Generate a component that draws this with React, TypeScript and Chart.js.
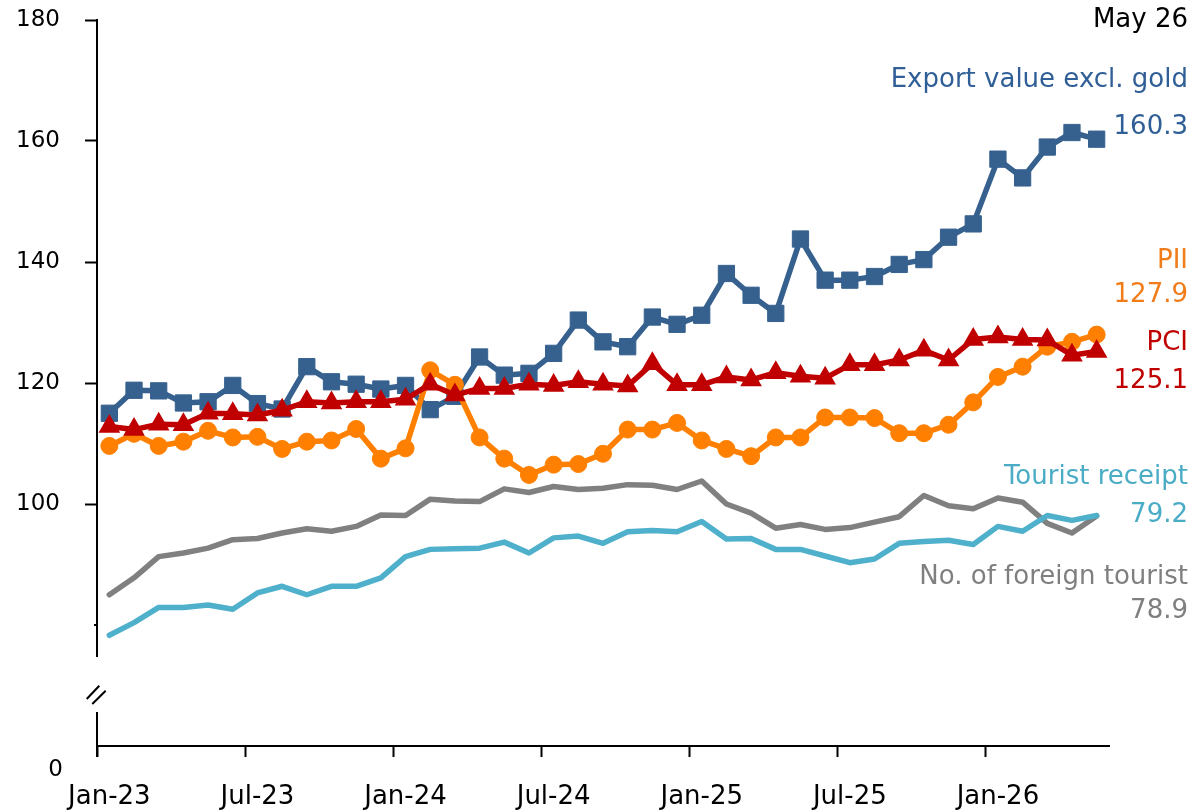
import React, { useEffect, useRef } from "react";
import { Chart, registerables } from "chart.js";

Chart.register(...registerables);

const months = [
  "Jan-23", "Feb-23", "Mar-23", "Apr-23", "May-23", "Jun-23", "Jul-23", "Aug-23", "Sep-23", "Oct-23", "Nov-23", "Dec-23",
  "Jan-24", "Feb-24", "Mar-24", "Apr-24", "May-24", "Jun-24", "Jul-24", "Aug-24", "Sep-24", "Oct-24", "Nov-24", "Dec-24",
  "Jan-25", "Feb-25", "Mar-25", "Apr-25", "May-25", "Jun-25", "Jul-25", "Aug-25", "Sep-25", "Oct-25", "Nov-25", "Dec-25",
  "Jan-26", "Feb-26", "Mar-26", "Apr-26", "May-26",
];

const xTickLabels = ["Jan-23", "Jul-23", "Jan-24", "Jul-24", "Jan-25", "Jul-25", "Jan-26"];
const yTickValues = [80, 100, 120, 140, 160, 180];
const yTickLabels = ["", "100", "120", "140", "160", "180"];
const yMin = 60;
const yMax = 180;
const yBottomLabel = "0";

const exportValues = [
  115.0, 118.8, 118.7, 116.7, 116.9, 119.6, 116.6, 115.7, 122.7, 120.2,
  119.8, 119.0, 119.6, 115.6, 117.8, 124.3, 121.3, 121.6, 124.9, 130.4,
  126.8, 126.0, 130.9, 129.7, 131.2, 138.1, 134.5, 131.5, 143.8, 137.0,
  137.0, 137.6, 139.6, 140.4, 144.1, 146.3, 157.0, 153.9, 159.0, 161.4, 160.3,
];
const pciValues = [
  112.8, 112.3, 113.2, 113.1, 115.0, 114.9, 114.7, 115.5, 116.9, 116.7,
  116.9, 116.9, 117.3, 119.8, 118.0, 119.1, 119.1, 119.8, 119.6, 120.2,
  119.8, 119.5, 123.2, 119.7, 119.7, 121.0, 120.5, 121.7, 121.1, 120.8,
  123.0, 123.0, 123.8, 125.4, 123.8, 127.2, 127.6, 127.2, 127.1, 124.6, 125.2,
];
const piiValues = [
  109.6, 111.6, 109.6, 110.3, 112.1, 111.0, 111.1, 109.1, 110.3, 110.5,
  112.4, 107.5, 109.2, 122.1, 119.7, 111.0, 107.5, 104.8, 106.5, 106.6,
  108.3, 112.3, 112.3, 113.4, 110.5, 109.1, 107.9, 111.0, 111.0, 114.3,
  114.3, 114.2, 111.7, 111.7, 113.1, 116.8, 121.0, 122.7, 126.0, 126.8, 128.0,
];
const touristValues = [
  85.0, 87.8, 91.3, 91.9, 92.7, 94.1, 94.3, 95.2, 95.9, 95.5,
  96.3, 98.2, 98.1, 100.8, 100.5, 100.4, 102.5, 101.9, 102.9, 102.4,
  102.6, 103.2, 103.1, 102.4, 103.8, 100.0, 98.5, 96.0, 96.6, 95.8,
  96.1, 97.0, 97.9, 101.4, 99.7, 99.2, 101.0, 100.3, 96.8, 95.2, 98.0,
];
const receiptValues = [
  78.3, 80.4, 82.9, 82.9, 83.3, 82.6, 85.3, 86.4, 85.0, 86.4,
  86.4, 87.8, 91.3, 92.5, 92.6, 92.7, 93.7, 91.9, 94.4, 94.7,
  93.5, 95.4, 95.6, 95.4, 97.1, 94.2, 94.3, 92.5, 92.5, 91.4,
  90.3, 90.9, 93.5, 93.8, 94.0, 93.3, 96.3, 95.5, 98.1, 97.3, 98.1,
];

const seriesNames = ["Export value excl. gold", "PII", "PCI", "Tourist receipt", "No. of foreign tourist"];
const latestLabels = ["160.3", "127.9", "125.1", "79.2", "78.9"];
const latestMonth = "May 26";

const C_BLUE = "#36618f";
const C_ORANGE = "#ff8000";
const C_RED = "#c00000";
const C_LBLUE = "#4fb0cc";
const C_GRAY = "#808080";

const FONT = '"DejaVu Sans", sans-serif';

const toXY = (vals: number[]) => vals.map((v, i) => ({ x: i, y: v }));
const xTickPositions = xTickLabels.map((l) => months.indexOf(l) - 0.5);

const decorPlugin = {
  id: "decor",
  afterDraw(chart: any) {
    const { ctx, chartArea, scales } = chart;
    const ax = chartArea.left;
    const bot = chartArea.bottom;
    ctx.save();
    ctx.strokeStyle = "#000";
    ctx.lineWidth = 2;
    ctx.beginPath();
    ctx.moveTo(ax, chartArea.top - 1);
    ctx.lineTo(ax, bot - 89);
    ctx.moveTo(ax, bot - 34);
    ctx.lineTo(ax, bot + 11);
    const y80 = scales.y.getPixelForValue(yTickValues[0]);
    ctx.moveTo(ax - 3, y80);
    ctx.lineTo(ax, y80);
    ctx.moveTo(ax - 10.3, bot - 47);
    ctx.lineTo(ax + 2.3, bot - 60.3);
    ctx.moveTo(ax - 4.7, bot - 42);
    ctx.lineTo(ax + 8.7, bot - 55.3);
    ctx.stroke();

    ctx.fillStyle = "#000";
    ctx.font = "23px " + FONT;
    ctx.textAlign = "right";
    ctx.textBaseline = "middle";
    ctx.fillText(yBottomLabel, ax - 34, bot + 24);

    const rx = 1188;
    ctx.font = "26px " + FONT;
    const notes: [string, string, number][] = [
      [latestMonth, "#000000", 20],
      [seriesNames[0], "#2f5f96", 80],
      [latestLabels[0], "#2f5f96", 127],
      [seriesNames[1], "#f07d1a", 261],
      [latestLabels[1], "#f07d1a", 295],
      [seriesNames[2], C_RED, 343],
      [latestLabels[2], C_RED, 381],
      [seriesNames[3], "#4bacc6", 477],
      [latestLabels[3], "#4bacc6", 515],
      [seriesNames[4], "#7f7f7f", 577],
      [latestLabels[4], "#7f7f7f", 611],
    ];
    for (const [t, c, y] of notes) {
      ctx.fillStyle = c;
      ctx.fillText(t, rx, y);
    }
    ctx.restore();
  },
};

export default function App() {
  const ref = useRef<HTMLCanvasElement>(null);
  useEffect(() => {
    if (!ref.current) return;
    const common = {
      tension: 0,
      borderJoinStyle: "round" as const,
      borderCapStyle: "round" as const,
      borderWidth: 5.5,
    };
    const chart = new Chart(ref.current, {
      type: "line",
      data: {
        datasets: [
          {
            ...common,
            label: seriesNames[2],
            data: toXY(pciValues),
            borderColor: C_RED,
            backgroundColor: C_RED,
            pointStyle: "triangle",
            pointRadius: 10.5,
            pointBorderWidth: 2,
            pointBorderColor: C_RED,
          },
          {
            ...common,
            label: seriesNames[1],
            data: toXY(piiValues),
            borderColor: C_ORANGE,
            backgroundColor: C_ORANGE,
            pointStyle: "circle",
            pointRadius: 8.5,
            pointBorderWidth: 1,
            pointBorderColor: C_ORANGE,
          },
          {
            ...common,
            label: seriesNames[0],
            data: toXY(exportValues),
            borderColor: C_BLUE,
            backgroundColor: C_BLUE,
            pointStyle: "rect",
            pointRadius: 11.5,
            pointBorderWidth: 1,
            pointBorderColor: C_BLUE,
          },
          {
            ...common,
            label: seriesNames[3],
            data: toXY(receiptValues),
            borderColor: C_LBLUE,
            backgroundColor: C_LBLUE,
            pointRadius: 0,
          },
          {
            ...common,
            label: seriesNames[4],
            data: toXY(touristValues),
            borderColor: C_GRAY,
            backgroundColor: C_GRAY,
            pointRadius: 0,
          },
        ],
      },
      options: {
        responsive: false,
        animation: false,
        layout: { padding: { left: 0, right: 89, top: 20, bottom: 0 } },
        plugins: { legend: { display: false }, tooltip: { enabled: false } },
        scales: {
          x: {
            type: "linear",
            min: -0.5,
            max: months.length - 0.5,
            afterBuildTicks: (scale: any) => {
              scale.ticks = xTickPositions.map((v) => ({ value: v }));
            },
            afterFit: (scale: any) => {
              scale.height = 66;
              scale.paddingLeft = 0;
              scale.paddingRight = 0;
            },
            ticks: {
              autoSkip: false,
              maxRotation: 0,
              padding: 25,
              labelOffset: 12.35,
              color: "#000",
              font: { family: FONT, size: 26 },
              callback: (_v: any, i: number) => xTickLabels[i],
            },
            grid: {
              drawOnChartArea: false,
              drawTicks: true,
              tickLength: 11,
              tickWidth: 2,
              tickColor: "#000",
            },
            border: { display: true, color: "#000", width: 2 },
          },
          y: {
            type: "linear",
            min: yMin,
            max: yMax,
            afterBuildTicks: (scale: any) => {
              scale.ticks = yTickValues.map((v) => ({ value: v }));
            },
            afterFit: (scale: any) => {
              scale.width = 97;
              scale.paddingTop = 0;
              scale.paddingBottom = 0;
            },
            ticks: {
              padding: 25,
              color: "#000",
              font: { family: FONT, size: 23 },
              callback: (_v: any, i: number) => yTickLabels[i],
            },
            grid: {
              drawOnChartArea: false,
              drawTicks: true,
              tickLength: 12,
              tickWidth: 2,
              tickColor: (c: any) => (c.tick && c.tick.value === yTickValues[0] ? "rgba(0,0,0,0)" : "#000"),
            },
            border: { display: false },
          },
        },
      },
      plugins: [decorPlugin],
    } as any);
    return () => chart.destroy();
  }, []);
  return (
    <div style={{ position: "absolute", left: 0, top: 0, width: 1198, height: 812, background: "#fff" }}>
      <canvas ref={ref} width={1198} height={812} style={{ display: "block" }} />
    </div>
  );
}
